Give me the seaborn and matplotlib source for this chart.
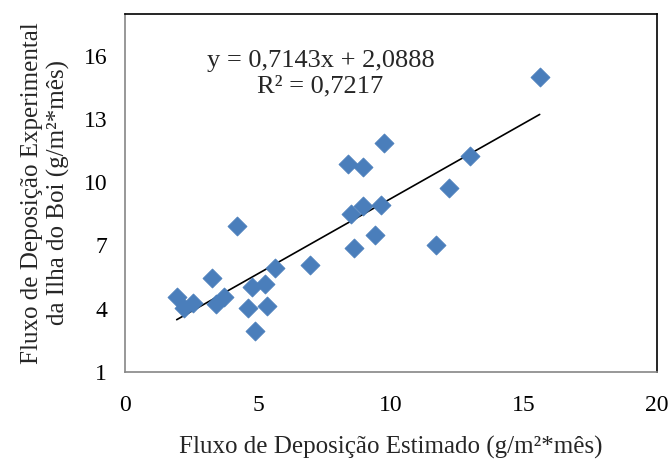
import matplotlib
matplotlib.use("Agg")
import matplotlib.pyplot as plt
import seaborn as sns
import numpy as np
import pandas as pd

# Estimated vs experimental deposition flux (g/m²*mês)
fluxo_estimado = [15.59, 9.75, 8.40, 8.95, 12.97, 12.19, 8.48, 8.95, 9.64, 9.38,
                  8.60, 11.68, 4.19, 6.97, 5.65, 3.28, 5.27, 4.77, 1.94, 2.57,
                  2.20, 3.73, 3.42, 4.61, 5.34, 4.89]
fluxo_experimental = [15.00, 11.88, 10.85, 10.74, 11.25, 9.74, 8.48, 8.87, 8.92, 7.49,
                      6.86, 7.00, 7.92, 6.09, 5.94, 5.47, 5.18, 5.01, 4.54, 4.28,
                      4.05, 4.56, 4.24, 4.03, 4.11, 2.95]

# Linear trend line
slope = 0.7143
intercept = 2.0888
r2 = 0.7217

x_ticks = [0, 5, 10, 15, 20]
y_ticks = [1, 4, 7, 10, 13, 16]

sns.set_theme(style="white")
plt.rcParams["font.family"] = ["Liberation Serif", "DejaVu Serif"]

df = pd.DataFrame({"est": fluxo_estimado, "exp": fluxo_experimental})
x_line = np.array([min(fluxo_estimado), max(fluxo_estimado)])
line_df = pd.DataFrame({"x": x_line, "y": slope * x_line + intercept})

fig = plt.figure(figsize=(6.69, 4.63), dpi=100)
ax = fig.add_axes([0.187, 0.197, 0.795, 0.773])

sns.scatterplot(data=df, x="est", y="exp", ax=ax, marker="D", s=95,
                color="#4A7EBB", edgecolor="#4A7EBB", linewidth=0.5, zorder=3)
sns.lineplot(data=line_df, x="x", y="y", ax=ax, color="black", linewidth=1.2, zorder=2)

ax.set_xlim(0, 20)
ax.set_ylim(1, 18)
ax.set_xticks(x_ticks)
ax.set_yticks(y_ticks)
ax.tick_params(axis="both", which="major", direction="out", length=5, width=1,
               color="#868686", labelsize=17, labelcolor="black", pad=8)
ax.tick_params(axis="x", pad=12)

for side in ["left", "bottom"]:
    ax.spines[side].set_color("#868686")
    ax.spines[side].set_linewidth(1.2)
for side in ["top", "right"]:
    ax.spines[side].set_color("black")
    ax.spines[side].set_linewidth(1.2)

ax.set_xlabel("Fluxo de Deposição Estimado (g/m²*mês)", fontsize=18, labelpad=14)
ax.set_ylabel("Fluxo de Deposição Experimental\nda Ilha do Boi (g/m²*mês)",
              fontsize=18, labelpad=10, linespacing=1.2)

eq = "y = 0,7143x + 2,0888\nR² = 0,7217"
ax.text(7.35, 15.15, eq, ha="center", va="center", fontsize=19, linespacing=1.2)

fig.savefig("out.png", dpi=100)
